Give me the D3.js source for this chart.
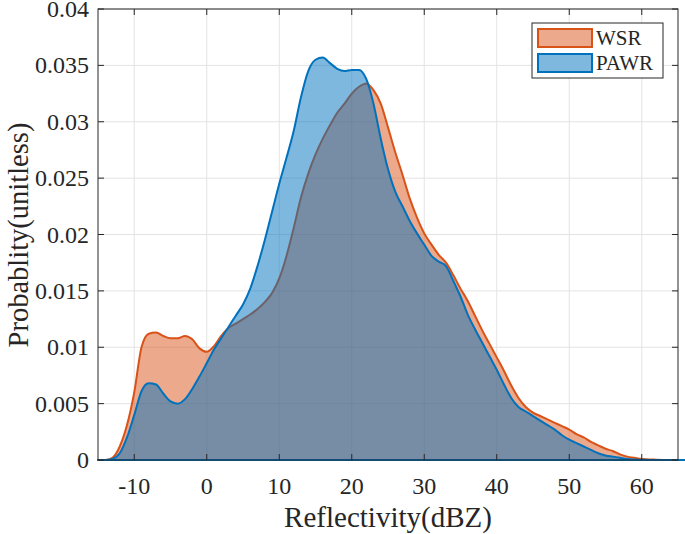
<!DOCTYPE html>
<html>
<head>
<meta charset="utf-8">
<title>Reflectivity PDF</title>
<script src="https://d3js.org/d3.v7.min.js"></script>
<style>
  body { margin: 0; background: #fff; }
  text { font-family: "Liberation Serif", "Times New Roman", serif; fill: #262626; }
</style>
</head>
<body>
<div id="chart"></div>
<script>
// reflectivity bins (dBZ)
var dbz = [-15,-14,-13,-12,-11,-10,-9,-8,-7,-6,-5,-4,-3,-2,-1,0,1,2,3,4,5,6,7,8,9,
           10,11,12,13,14,15,16,17,18,19,20,21,22,23,24,25,26,27,28,29,30,31,32,33,34,
           35,36,37,38,39,40,41,42,43,44,45,46,47,48,49,50,51,52,53,54,55,56,57,58,59,
           60,61,62,63,64,65,66];

var wsr = [0,0,0.0002,0.0012,0.0031,0.0060,0.0100,0.0112,0.0113,0.0110,0.0108,0.0108,0.0110,0.0107,0.0099,
           0.0096,0.0101,0.0110,0.0117,0.0121,0.0125,0.0129,0.0134,0.0140,0.0148,
           0.0161,0.0181,0.0206,0.0233,0.0254,0.0271,0.0285,0.0297,0.0308,0.0316,
           0.0325,0.0331,0.0334,0.0328,0.0316,0.0295,0.0273,0.0253,0.0232,0.0215,
           0.0201,0.0191,0.0182,0.0175,0.0164,0.0152,0.0141,0.0128,0.0115,0.0103,
           0.0091,0.0079,0.0066,0.0055,0.0047,0.0042,0.0039,0.0036,0.0033,0.0030,
           0.0027,0.0023,0.0020,0.0016,0.0013,0.0010,0.0008,0.0005,0.0003,0.0002,
           0.0001,0.00005,0.00003,0.00001,0,0,0];

var pawr = [0,0,0.0001,0.0006,0.0020,0.0040,0.0061,0.0068,0.0067,0.0059,0.0052,0.0050,0.0054,0.0063,0.0074,
            0.0086,0.0098,0.0108,0.0118,0.0128,0.0138,0.0152,0.0172,0.0195,0.0220,
            0.0245,0.0268,0.0292,0.0322,0.0345,0.0355,0.0357,0.0352,0.0347,0.0345,
            0.0346,0.0346,0.0338,0.0316,0.0285,0.0258,0.0238,0.0225,0.0212,0.0201,
            0.0191,0.0181,0.0176,0.0172,0.0159,0.0145,0.0129,0.0116,0.0104,0.0092,
            0.0080,0.0067,0.0055,0.0047,0.0043,0.0039,0.0035,0.0031,0.0027,0.0022,
            0.0018,0.0015,0.0012,0.0009,0.0006,0.0004,0.0003,0.0002,0.0001,0.00005,
            0.00002,0,0,0,0,0,0];

var xTicks = [-10,0,10,20,30,40,50,60];
var yTicks = [0,0.005,0.01,0.015,0.02,0.025,0.03,0.035,0.04];
var seriesNames = ["WSR","PAWR"];
var seriesColors = ["#D95319","#0072BD"];

var margin = {top: 9, right: 7, bottom: 74, left: 98},
    W = 685, H = 534,
    width = W - margin.left - margin.right,
    height = H - margin.top - margin.bottom;

var svg = d3.select("#chart").append("svg")
    .attr("width", W).attr("height", H);
var g = svg.append("g")
    .attr("transform", "translate(" + margin.left + "," + margin.top + ")");

var x = d3.scaleLinear().domain([-15, 65]).range([0, width]);
var y = d3.scaleLinear().domain([0, 0.04]).range([height, 0]);

// grid
g.append("g").selectAll("line").data(xTicks).join("line")
    .attr("x1", d => x(d)).attr("x2", d => x(d))
    .attr("y1", 0).attr("y2", height)
    .attr("stroke", "#e3e3e3").attr("stroke-width", 1);
g.append("g").selectAll("line").data(yTicks).join("line")
    .attr("y1", d => y(d)).attr("y2", d => y(d))
    .attr("x1", 0).attr("x2", width)
    .attr("stroke", "#e3e3e3").attr("stroke-width", 1);

// areas
var pts = function(vals) { return dbz.map(function(d, i) { return [d, vals[i]]; }); };
var area = d3.area()
    .x(d => x(d[0])).y0(y(0)).y1(d => y(d[1]))
    .curve(d3.curveMonotoneX);

[wsr, pawr].forEach(function(vals, i) {
    g.append("path")
        .datum(pts(vals))
        .attr("d", area)
        .attr("fill", seriesColors[i])
        .attr("fill-opacity", 0.5)
        .attr("stroke", seriesColors[i])
        .attr("stroke-width", 2)
        .attr("stroke-linejoin", "round");
});

// axes box with inward ticks
var tl = 6;
var axisCol = "#262626";
var ax = g.append("g");
ax.append("rect").attr("x", 0).attr("y", 0).attr("width", width).attr("height", height)
    .attr("fill", "none").attr("stroke", axisCol).attr("stroke-width", 1);
xTicks.forEach(function(t) {
    ax.append("line").attr("x1", x(t)).attr("x2", x(t)).attr("y1", height).attr("y2", height - tl)
        .attr("stroke", axisCol);
    ax.append("line").attr("x1", x(t)).attr("x2", x(t)).attr("y1", 0).attr("y2", tl)
        .attr("stroke", axisCol);
    ax.append("text").attr("x", x(t)).attr("y", height + 34)
        .attr("text-anchor", "middle").attr("font-size", 24).text(t);
});
yTicks.forEach(function(t) {
    ax.append("line").attr("x1", 0).attr("x2", tl).attr("y1", y(t)).attr("y2", y(t))
        .attr("stroke", axisCol);
    ax.append("line").attr("x1", width).attr("x2", width - tl).attr("y1", y(t)).attr("y2", y(t))
        .attr("stroke", axisCol);
    ax.append("text").attr("x", -9).attr("y", y(t) + 8)
        .attr("text-anchor", "end").attr("font-size", 24).text(t);
});

// axis labels
svg.append("text").attr("x", margin.left + width / 2).attr("y", 527)
    .attr("text-anchor", "middle").attr("font-size", 29).text("Reflectivity(dBZ)");
svg.append("text")
    .attr("transform", "translate(28," + 235 + ") rotate(-90)")
    .attr("text-anchor", "middle").attr("font-size", 28.5).text("Probablity(unitless)");

// legend
var lg = svg.append("g").attr("transform", "translate(532,23)");
lg.append("rect").attr("width", 131).attr("height", 55)
    .attr("fill", "#fff").attr("stroke", axisCol).attr("stroke-width", 1);
seriesNames.forEach(function(n, i) {
    lg.append("rect").attr("x", 6).attr("y", 6 + i * 25).attr("width", 54).attr("height", 18)
        .attr("fill", seriesColors[i]).attr("fill-opacity", 0.5)
        .attr("stroke", seriesColors[i]).attr("stroke-width", 2);
    lg.append("text").attr("x", 64).attr("y", 22 + i * 25).attr("font-size", 21).text(n);
});
</script>
</body>
</html>
